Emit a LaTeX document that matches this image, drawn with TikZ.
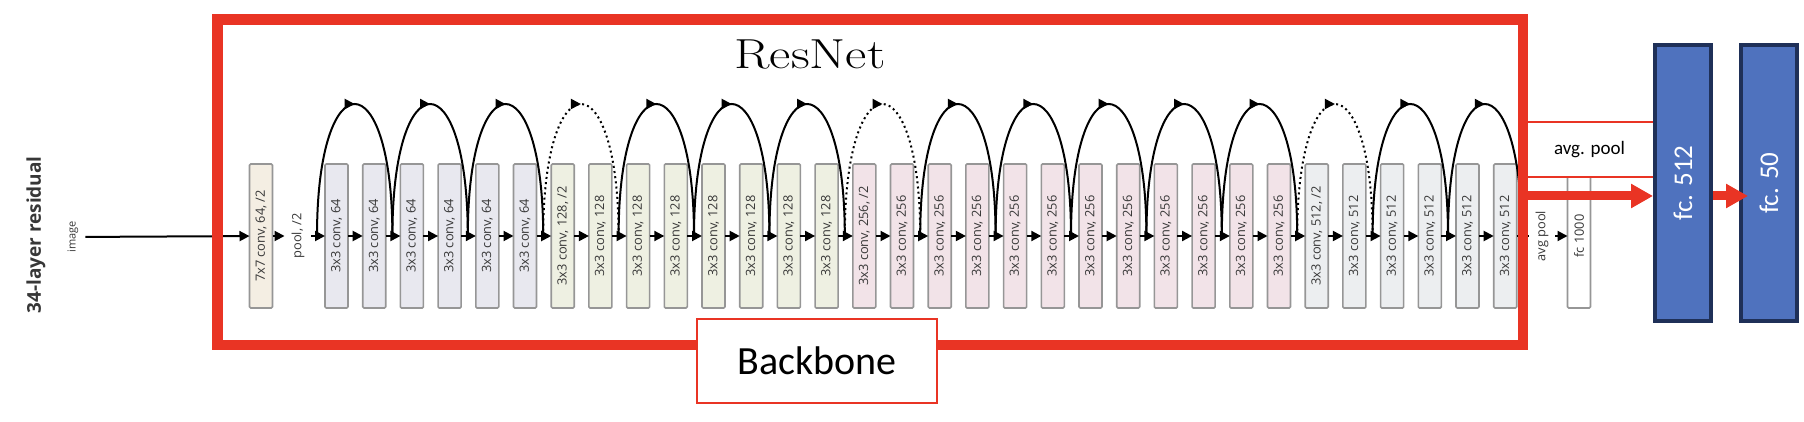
\documentclass[tikz,border=0pt]{standalone}
\usepackage{fontspec}
\usepackage{xcolor}
\usepackage{graphicx}
\usepackage{tikz}
\usetikzlibrary{arrows.meta, positioning, calc, decorations.markings}
\newfontfamily\calibri{Carlito}
\newfontfamily\netfont{Open Sans}
\definecolor{framered}{RGB}{233,52,36}
\definecolor{fcblue}{RGB}{79,114,190}
\definecolor{fcnavy}{RGB}{31,48,88}
\definecolor{edgegray}{RGB}{150,150,150}
\definecolor{textgray}{RGB}{55,55,55}
\definecolor{stemfill}{RGB}{244,238,227}
\definecolor{stageA}{RGB}{232,232,239}
\definecolor{stageB}{RGB}{238,240,226}
\definecolor{stageC}{RGB}{242,227,232}
\definecolor{stageD}{RGB}{236,238,240}

\begin{document}
\begin{tikzpicture}[x=0.5pt, y=-0.5pt]
  % Styles
  \tikzstyle{conv} = [rectangle, rounded corners=0.6pt, draw=edgegray, line width=0.8pt, minimum width=11.5pt, minimum height=72pt, inner sep=0pt, outer sep=0pt, font=\netfont\fontsize{6.4}{7}\selectfont, text=textgray]
  \tikzstyle{small} = [font=\netfont\fontsize{6.4}{7}\selectfont, text=textgray]
  \tikzstyle{flow} = [line width=1pt, -{Triangle[length=5pt,width=5pt]}]
  \tikzstyle{skip} = [line width=1pt, postaction={decorate}, decoration={markings, mark=at position 0.5 with {\arrow{Triangle[length=5pt,width=5pt]}}}]
  \tikzstyle{fcbox} = [rectangle, draw=fcnavy, line width=2pt, fill=fcblue, minimum width=28pt, minimum height=138pt, text=white, font=\calibri\fontsize{13.5}{14}\selectfont]
  \tikzstyle{tag} = [rectangle, draw=framered, line width=0.9pt, fill=white, inner sep=0pt]
  \tikzstyle{bigarrow} = [framered, line width=4.5pt, -{Triangle[length=11pt,width=11.5pt]}]

  \useasboundingbox (0,0) rectangle (1804,422);

  % Input
  \node (depth) [font=\netfont\bfseries\fontsize{9.5}{10}\selectfont, text=textgray] at (36,235) {\rotatebox{90}{34-layer residual}};
  \node (img) [small, font=\netfont\fontsize{5.5}{6}\selectfont] at (73,237) {\rotatebox{90}{image}};
  \node (title) [font=\fontsize{21}{21}\selectfont] at (810,54.5) {\scalebox{1.24}[1]{ResNet}};

  % Stem
  \node (b7) [conv, fill=stemfill] at (261,236) {\rotatebox{90}{7x7 conv, 64, /2}};
  \node (pool) [small] at (298,236) {\rotatebox{90}{pool, /2}};

  % Residual stages
  \foreach \i in {0,...,5}
    \node (c\i) [conv, fill=stageA] at ({336.5+37.7*\i},236) {\rotatebox{90}{3x3 conv, 64}};
  \node (c6) [conv, fill=stageB] at ({336.5+37.7*6},236) {\rotatebox{90}{3x3 conv, 128, /2}};
  \foreach \i in {7,...,13}
    \node (c\i) [conv, fill=stageB] at ({336.5+37.7*\i},236) {\rotatebox{90}{3x3 conv, 128}};
  \node (c14) [conv, fill=stageC] at ({336.5+37.7*14},236) {\rotatebox{90}{3x3 conv, 256, /2}};
  \foreach \i in {15,...,25}
    \node (c\i) [conv, fill=stageC] at ({336.5+37.7*\i},236) {\rotatebox{90}{3x3 conv, 256}};
  \node (c26) [conv, fill=stageD] at ({336.5+37.7*26},236) {\rotatebox{90}{3x3 conv, 512, /2}};
  \foreach \i in {27,...,31}
    \node (c\i) [conv, fill=stageD] at ({336.5+37.7*\i},236) {\rotatebox{90}{3x3 conv, 512}};

  % Head
  \node (avgtxt) [small] at (1542,236) {\rotatebox{90}{avg pool}};
  \node (fc1k) [conv, fill=white] at (1579,236) {\rotatebox{90}{fc 1000}};

  % Connections
  \draw [flow] (img) -- (b7);
  \draw [flow] (b7) -- (pool);
  \draw [flow] (pool) -- (c0);
  \foreach \i [evaluate=\i as \j using int(\i+1)] in {0,...,30}
    \draw [flow] (c\i) -- (c\j);
  \draw [line width=1pt] (c31) -- (avgtxt);
  \draw [flow] (avgtxt) -- (fc1k);

  % Shortcuts
  \foreach \k [evaluate=\k as \m using int(2*\k)] in {0,...,15}
    \coordinate (j\k) at ($(c\m.west)+(-8,0)$);
  \coordinate (j16) at ($(c31.east)+(5,0)$);
  \foreach \k [evaluate=\k as \n using int(\k+1)] in {0,1,2,4,5,6,8,9,10,11,12,14,15}
    \draw [skip] (j\k) .. controls +(0,-176) and +(0,-176) .. (j\n);
  \foreach \k [evaluate=\k as \n using int(\k+1)] in {3,7,13}
    \draw [skip, dash pattern=on 1pt off 1.6pt] (j\k) .. controls +(0,-176) and +(0,-176) .. (j\n);

  % Backbone frame and classifier
  \node (avg) [tag, minimum width=65.5pt, minimum height=27.5pt, font=\calibri\fontsize{9.5}{10}\selectfont] at (1589.5,149.5) {avg. pool};
  \node (frame) [draw=framered, line width=5.25pt, minimum width=652.75pt, minimum height=162.75pt] at (870.25,182.25) {};
  \node (fc512) [fcbox] at (1683,183) {\rotatebox{90}{fc. 512}};
  \node (fc50) [fcbox, right=13pt of fc512] {\rotatebox{90}{fc. 50}};
  \coordinate (gap) at (1600,196);
  \draw [bigarrow] (frame.east |- gap) -- (fc512.west |- gap);
  \draw [bigarrow, shorten >=-4.5pt] (fc512.east |- gap) -- (fc50.west |- gap);

  % Label
  \node (backbone) [tag, line width=1.2pt, minimum width=120pt, minimum height=42pt, font=\calibri\fontsize{20}{20}\selectfont] at (817,361) {Backbone};
\end{tikzpicture}
\end{document}
